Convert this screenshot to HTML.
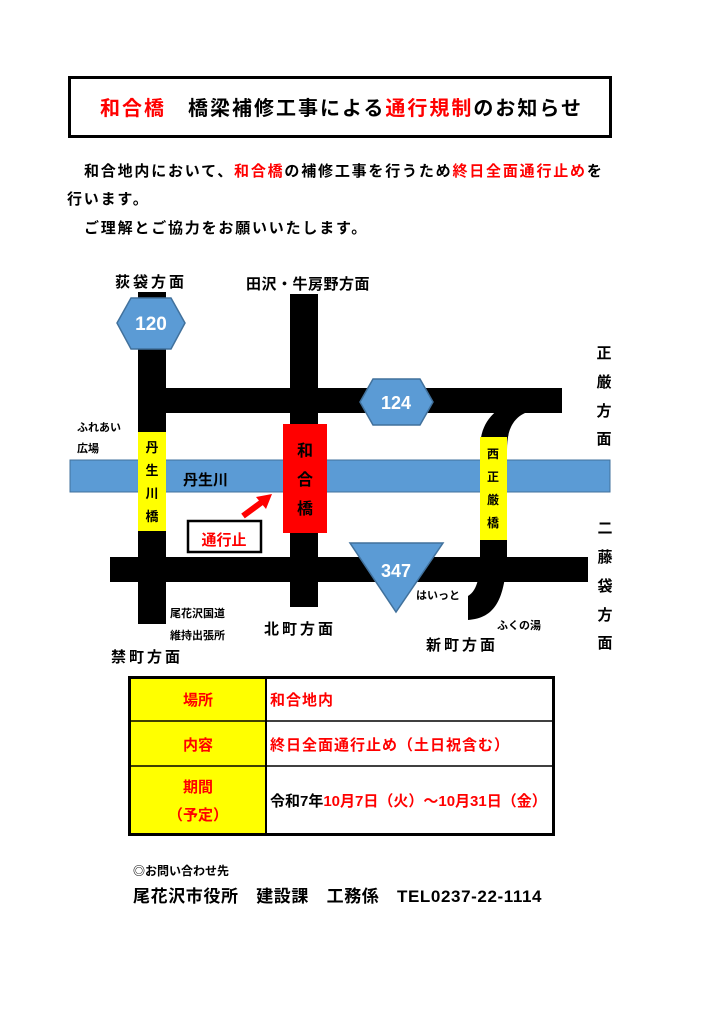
<!DOCTYPE html>
<html><head><meta charset="utf-8"><style>
body{margin:0;background:#fff;}
.p{position:absolute;font-family:"Liberation Sans","Noto Sans CJK JP",sans-serif;font-weight:bold;white-space:nowrap;}
.r{color:#f00;}
</style></head><body>
<div style="position:relative;width:723px;height:1024px;overflow:hidden;">
<div style="position:absolute;left:68px;top:76px;width:538px;height:56px;border:3px solid #000;"></div>
<div class="p" style="left:100px;top:92px;font-size:20px;letter-spacing:2px;"><span class="r">和合橋</span>　橋梁補修工事による<span class="r">通行規制</span>のお知らせ</div>
<div class="p" style="left:84px;top:160px;font-size:15px;letter-spacing:1.8px;">和合地内において、<span class="r">和合橋</span>の補修工事を行うため<span class="r">終日全面通行止め</span>を</div>
<div class="p" style="left:67px;top:188px;font-size:15px;letter-spacing:1.8px;">行います。</div>
<div class="p" style="left:84px;top:217px;font-size:15px;letter-spacing:1.8px;">ご理解とご協力をお願いいたします。</div>

<svg style="position:absolute;left:0;top:0" width="723" height="1024">
<g fill="#000">
<rect x="138" y="292" width="28" height="332"/>
<rect x="138" y="388" width="424" height="25"/>
<rect x="290" y="294" width="28" height="313"/>
<rect x="110" y="557" width="478" height="25"/>
<path d="M480 450 C480 425 490 413 512 400 L525 413 C510 420 507 435 507 450 Z"/>
<rect x="480" y="440" width="27" height="120"/>
<path d="M480 555 L507 555 C505 600 495 618 468 620 L468 596 C478 590 480 575 480 555 Z"/>
</g>
<rect x="70" y="460" width="540" height="32" fill="#5b9bd5" stroke="#41719c" stroke-width="1"/>
<rect x="138" y="432" width="28" height="99" fill="#ff0"/>
<rect x="480" y="437" width="27" height="103" fill="#ff0"/>
<rect x="283" y="424" width="44" height="109" fill="#f00"/>
<polygon points="117,323 131,298 171,298 185,323 171,349 131,349" fill="#5b9bd5" stroke="#41719c" stroke-width="1.5"/>
<polygon points="360,402 373,379 420,379 433,402 420,425 373,425" fill="#5b9bd5" stroke="#41719c" stroke-width="1.5"/>
<polygon points="350,543 443,543 396,612" fill="#5b9bd5" stroke="#41719c" stroke-width="1.5"/>
<rect x="188" y="521" width="73" height="31" fill="#fff" stroke="#000" stroke-width="2.5"/>
<line x1="243" y1="516" x2="262" y2="502" stroke="#f00" stroke-width="6"/>
<polygon points="272,494 256,497 266,509" fill="#f00"/>
<g font-family="Liberation Sans,Noto Sans CJK JP,sans-serif" font-weight="bold">
<text x="151" y="330" font-size="19" fill="#fff" text-anchor="middle">120</text>
<text x="396" y="409" font-size="18" fill="#fff" text-anchor="middle">124</text>
<text x="396" y="577" font-size="18" fill="#fff" text-anchor="middle">347</text>
<text x="224" y="545" font-size="15" fill="#f00" text-anchor="middle">通行止</text>
<g font-size="13" text-anchor="middle"><text x="152" y="452">丹</text><text x="152" y="475">生</text><text x="152" y="498">川</text><text x="152" y="521">橋</text></g>
<g font-size="12" text-anchor="middle"><text x="493" y="458">西</text><text x="493" y="481">正</text><text x="493" y="504">厳</text><text x="493" y="527">橋</text></g>
<g font-size="16" text-anchor="middle"><text x="305" y="456">和</text><text x="305" y="485">合</text><text x="305" y="514">橋</text></g>
<text x="183" y="485" font-size="15">丹生川</text>
<text x="115" y="287" font-size="15" letter-spacing="3">荻袋方面</text>
<text x="246" y="289" font-size="15" letter-spacing="0.5">田沢・牛房野方面</text>
<g font-size="15" text-anchor="middle"><text x="604" y="358">正</text><text x="604" y="387">厳</text><text x="604" y="416">方</text><text x="604" y="444">面</text>
<text x="605" y="533">二</text><text x="605" y="562">藤</text><text x="605" y="591">袋</text><text x="605" y="620">方</text><text x="605" y="648">面</text></g>
<text x="77" y="431" font-size="11">ふれあい</text>
<text x="77" y="452" font-size="11">広場</text>
<text x="170" y="617" font-size="11">尾花沢国道</text>
<text x="170" y="639" font-size="11">維持出張所</text>
<text x="264" y="634" font-size="15" letter-spacing="3">北町方面</text>
<text x="111" y="662" font-size="15" letter-spacing="3">禁町方面</text>
<text x="426" y="650" font-size="15" letter-spacing="3">新町方面</text>
<text x="416" y="599" font-size="11">はいっと</text>
<text x="497" y="629" font-size="11">ふくの湯</text>
</g>
<rect x="129.5" y="677.5" width="424" height="157" fill="none" stroke="#000" stroke-width="3"/>
<rect x="131" y="679" width="135" height="154" fill="#ff0"/>
<line x1="266" y1="677" x2="266" y2="835" stroke="#000" stroke-width="2"/>
<line x1="129" y1="721" x2="554" y2="721" stroke="#000" stroke-width="1.5"/>
<line x1="129" y1="766" x2="554" y2="766" stroke="#000" stroke-width="1.5"/>
<g font-family="Liberation Sans,Noto Sans CJK JP,sans-serif" font-weight="bold" font-size="15">
<text x="198" y="705" fill="#f00" text-anchor="middle">場所</text>
<text x="198" y="750" fill="#f00" text-anchor="middle">内容</text>
<text x="198" y="792" fill="#f00" text-anchor="middle">期間</text>
<text x="198" y="820" fill="#f00" text-anchor="middle">（予定）</text>
<text x="270" y="705" fill="#f00" letter-spacing="1">和合地内</text>
<text x="270" y="750" fill="#f00" letter-spacing="1">終日全面通行止め（土日祝含む）</text>
<text x="270" y="806">令和7年<tspan fill="#f00">10月7日（火）～10月31日（金）</tspan></text>
<text x="133" y="875" font-size="12">◎お問い合わせ先</text>
<text x="133" y="902" font-size="17" letter-spacing="0.6">尾花沢市役所　建設課　工務係　TEL0237-22-1114</text>
</g>
</svg>
</div>
</body></html>
